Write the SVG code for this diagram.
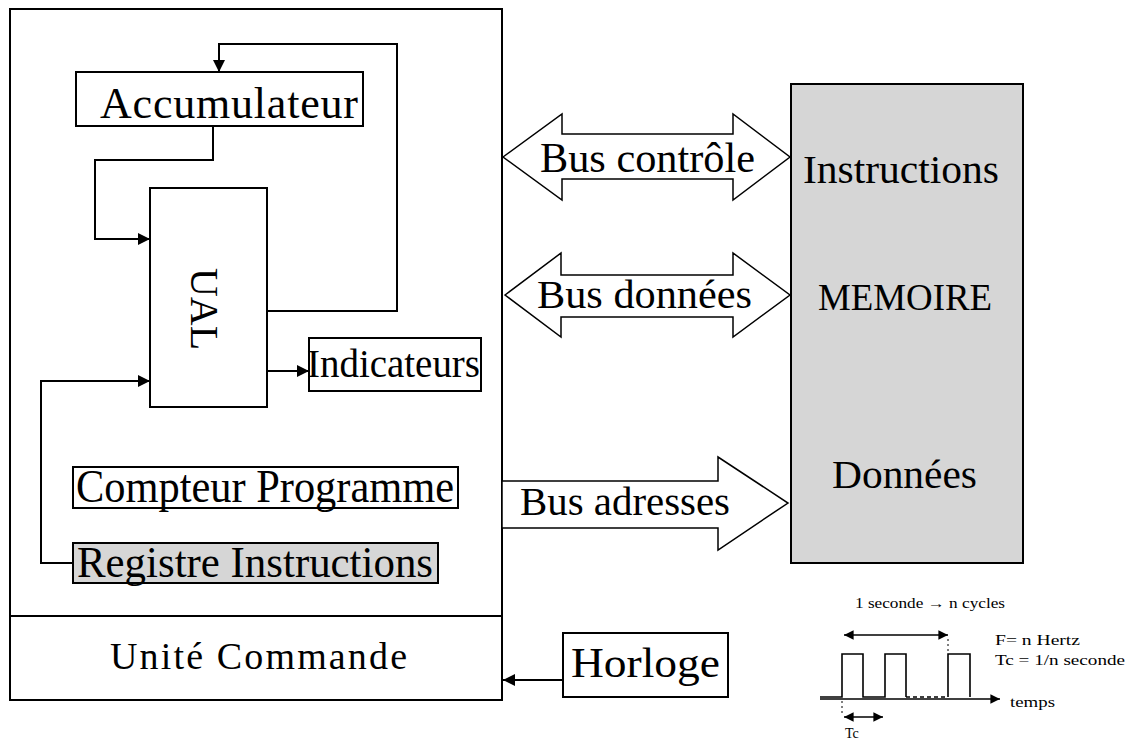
<svg xmlns="http://www.w3.org/2000/svg" width="1126" height="740" viewBox="0 0 1126 740">
<style>
.box{fill:#fff;stroke:#000;stroke-width:2}
.gray{fill:#d6d6d6;stroke:#000;stroke-width:2}
.ln{fill:none;stroke:#000;stroke-width:2}
.thin{fill:none;stroke:#000;stroke-width:1.6}
.bus{fill:#fff;stroke:#000;stroke-width:1.5}
.t{font-family:"Liberation Serif","Times New Roman",serif;fill:#000}
.sm{font-family:"Liberation Serif","Times New Roman",serif;fill:#000;font-size:14px}
</style>
<defs>
<marker id="ah" viewBox="0 0 10 10" refX="10" refY="5" markerWidth="6" markerHeight="6" orient="auto-start-reverse" markerUnits="strokeWidth">
<path d="M0,0 L10,5 L0,10 z" fill="#000"/>
</marker>
<marker id="ahs" viewBox="0 0 10 10" refX="10" refY="5" markerWidth="8" markerHeight="6" orient="auto-start-reverse" markerUnits="strokeWidth">
<path d="M0,0 L10,5 L0,10 z" fill="#000"/>
</marker>
</defs>
<rect width="1126" height="740" fill="#fff"/>

<g id="processeur">
<rect class="box" x="10" y="9" width="492" height="691"/>
<line class="ln" x1="10" y1="616" x2="502" y2="616"/>
<text class="t" x="110" y="669" font-size="38" textLength="297" lengthAdjust="spacing">Unité Commande</text>
</g>

<g id="accumulateur">
<rect class="box" x="76" y="72" width="287" height="54"/>
<text class="t" x="100" y="118" font-size="44" textLength="258" lengthAdjust="spacing">Accumulateur</text>
</g>

<g id="ual">
<rect class="box" x="150" y="188" width="117" height="219"/>
<text class="t" font-size="40" text-anchor="middle" transform="translate(191,309) rotate(90)">UAL</text>
</g>

<g id="indicateurs">
<rect class="box" x="309" y="338" width="172" height="53"/>
<text class="t" x="307" y="377" font-size="40" textLength="173" lengthAdjust="spacingAndGlyphs">Indicateurs</text>
</g>

<g id="compteur">
<rect class="box" x="73" y="467" width="385" height="41"/>
<text class="t" x="76" y="502" font-size="46" textLength="378" lengthAdjust="spacingAndGlyphs">Compteur Programme</text>
</g>

<g id="registre">
<rect class="gray" x="73" y="543" width="365" height="40"/>
<text class="t" x="77" y="577" font-size="44" textLength="356" lengthAdjust="spacingAndGlyphs">Registre Instructions</text>
</g>

<g id="memoire">
<rect class="gray" x="791" y="84" width="232" height="479"/>
<text class="t" x="803" y="183" font-size="40" textLength="196" lengthAdjust="spacingAndGlyphs">Instructions</text>
<text class="t" x="818" y="310" font-size="37" textLength="174" lengthAdjust="spacingAndGlyphs">MEMOIRE</text>
<text class="t" x="832" y="488" font-size="41" textLength="145" lengthAdjust="spacingAndGlyphs">Données</text>
</g>

<g id="horloge">
<rect class="box" x="563" y="633" width="165" height="64"/>
<text class="t" x="571" y="677" font-size="42" textLength="149" lengthAdjust="spacingAndGlyphs">Horloge</text>
</g>

<g id="bus-controle">
<polygon class="bus" points="503,157 562,114 562,134 733,134 733,114 790,157 733,200 733,179 562,179 562,200"/>
<text class="t" x="540" y="172" font-size="42" textLength="215" lengthAdjust="spacingAndGlyphs">Bus contrôle</text>
</g>

<g id="bus-donnees">
<polygon class="bus" points="505,295 561,253 561,275 733,275 733,253 790,295 733,337 733,317 561,317 561,337"/>
<text class="t" x="537" y="308" font-size="40" textLength="215" lengthAdjust="spacingAndGlyphs">Bus données</text>
</g>

<g id="bus-adresses">
<polygon class="bus" points="502,481 718,481 718,457 788,503 718,550 718,528 502,528"/>
<text class="t" x="520" y="515" font-size="40" textLength="210" lengthAdjust="spacingAndGlyphs">Bus adresses</text>
</g>

<g id="connecteurs">
<polyline class="ln" points="267,311 397,311 397,44 219,44 219,72" marker-end="url(#ah)"/>
<polyline class="ln" points="213,126 213,160 95,160 95,239 150,239" marker-end="url(#ah)"/>
<line class="ln" x1="267" y1="371" x2="309" y2="371" marker-end="url(#ah)"/>
<polyline class="ln" points="73,563 41,563 41,381 150,381" marker-end="url(#ah)"/>
<line class="ln" x1="563" y1="680" x2="503" y2="680" marker-end="url(#ah)"/>
</g>

<g id="chronogramme">
<text class="sm" x="855" y="608" textLength="150" lengthAdjust="spacingAndGlyphs">1 seconde → n cycles</text>
<line class="thin" x1="844" y1="635" x2="948" y2="635" marker-start="url(#ahs)" marker-end="url(#ahs)"/>
<line x1="948" y1="639" x2="948" y2="654" stroke="#000" stroke-width="1" stroke-dasharray="2 3"/>
<polyline class="thin" points="820,697 842,697 842,654 863,654 863,697 885,697 885,654 906,654 906,697"/>
<line x1="906" y1="697" x2="948" y2="697" stroke="#000" stroke-width="1.4" stroke-dasharray="4 3"/>
<polyline class="thin" points="948,697 948,654 970,654 970,697"/>
<line class="thin" x1="820" y1="699" x2="1000" y2="699" marker-end="url(#ahs)"/>
<text class="sm" x="1010" y="707" textLength="45" lengthAdjust="spacingAndGlyphs">temps</text>
<text class="sm" x="995" y="645" textLength="85" lengthAdjust="spacingAndGlyphs">F= n Hertz</text>
<text class="sm" x="995" y="665" textLength="130" lengthAdjust="spacingAndGlyphs">Tc = 1/n seconde</text>
<line x1="842" y1="701" x2="842" y2="716" stroke="#000" stroke-width="1" stroke-dasharray="2 3"/>
<line class="thin" x1="844" y1="717" x2="883" y2="717" marker-start="url(#ahs)" marker-end="url(#ahs)"/>
<text class="sm" x="845" y="738" font-size="12">Tc</text>
</g>
</svg>
